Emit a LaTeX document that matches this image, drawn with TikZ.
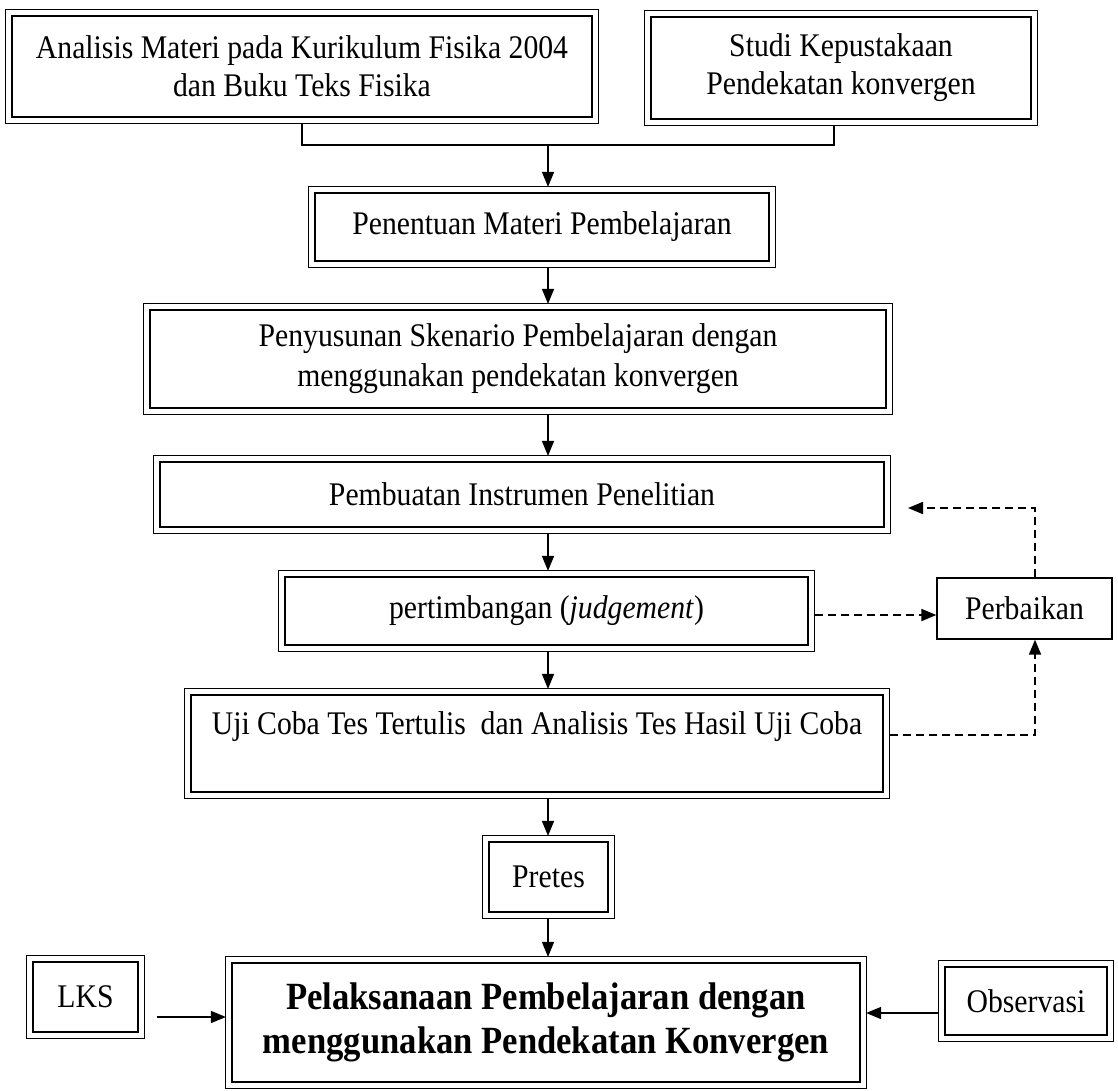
\documentclass[tikz,border=0pt]{standalone}
\usepackage{fontspec}
\setmainfont{Liberation Serif}[FakeStretch=0.9]
\usetikzlibrary{arrows.meta,calc}
\begin{document}
\begin{tikzpicture}[x=1pt,y=-1pt,
  dbox/.style={draw, line width=2.2pt, inner sep=0pt, align=center, font=\fontsize{33}{40}\selectfont},
  sbox/.style={draw, line width=1.3pt, inner sep=0pt, align=center, font=\fontsize{33}{40}\selectfont},
  conn/.style={line width=1.5pt, -{Triangle[length=15pt,width=12pt]}},
  plainline/.style={line width=1.2pt},
  dashconn/.style={line width=1.8pt, dash pattern=on 8pt off 5pt, -{Triangle[length=15pt,width=12pt]}}
]
\useasboundingbox (0,0) rectangle (1118,1090);

\node[dbox, minimum width=580pt, minimum height=101pt, font=\fontsize{33}{38}\selectfont] (ana) at (302,66.5)
  {Analisis Materi pada Kurikulum Fisika 2004\\dan Buku Teks Fisika};
\node[dbox, minimum width=380pt, minimum height=102pt, font=\fontsize{33}{38}\selectfont] (stu) at (841,68)
  {Studi Kepustakaan\\Pendekatan konvergen};
\node[dbox, minimum width=454pt, minimum height=68pt] (pen) at (542,227)
  {Penentuan Materi Pembelajaran};
\node[dbox, minimum width=736pt, minimum height=98pt] (pys) at (518,359)
  {Penyusunan Skenario Pembelajaran dengan\\menggunakan pendekatan konvergen};
\node[dbox, minimum width=724pt, minimum height=65pt] (pmb) at (522,494.5)
  {Pembuatan Instrumen Penelitian};
\node[dbox, minimum width=523pt, minimum height=68pt] (pti) at (546.5,611)
  {pertimbangan (\textit{judgement})};
\node[dbox, minimum width=692pt, minimum height=97pt] (uji) at (537,743.5)
  {Uji Coba Tes Tertulis\ \ dan Analisis Tes Hasil Uji Coba\\\mbox{}};
\node[dbox, minimum width=119pt, minimum height=70pt] (pre) at (548.5,877)
  {Pretes};
\node[dbox, minimum width=628pt, minimum height=119pt, font=\fontsize{38.5}{44}\selectfont\bfseries] (pel) at (546,1022.5)
  {Pelaksanaan Pembelajaran dengan\\menggunakan Pendekatan Konvergen};
\node[dbox, minimum width=105pt, minimum height=70pt] (lks) at (85.5,997)
  {LKS};
\node[dbox, minimum width=162pt, minimum height=68pt] (obs) at (1026,1001)
  {Observasi};
\node[sbox, minimum width=175pt, minimum height=61pt] (pbk) at (1024.5,608.5)
  {Perbaikan};

\foreach \n in {ana,stu,pen,pys,pmb,pti,uji,pre,pel,lks,obs}
  \draw[line width=0.9pt] ([shift={(-5pt,-5pt)}]\n.south west) rectangle ([shift={(5pt,5pt)}]\n.north east);

% bracket joining the two top boxes
\coordinate (bl) at (302,145);
\coordinate (br) at (834,145);
\coordinate (bm) at (548,145);
\coordinate (tx) at (548,0);
\draw[plainline] ($(ana.south)+(0,-5pt)$) -- (bl) -- (br) -- ($(stu.south -| br)+(0,-5pt)$);
\draw[conn] (bm) -- ($(pen.north -| bm)+(0,5pt)$);

% main trunk
\draw[conn] ($(pen.south -| tx)+(0,-5pt)$) -- ($(pys.north -| tx)+(0,5pt)$);
\draw[conn] ($(pys.south -| tx)+(0,-5pt)$) -- ($(pmb.north -| tx)+(0,5pt)$);
\draw[conn] ($(pmb.south -| tx)+(0,-5pt)$) -- ($(pti.north -| tx)+(0,5pt)$);
\draw[conn] ($(pti.south -| tx)+(0,-5pt)$) -- ($(uji.north -| tx)+(0,5pt)$);
\draw[conn] ($(uji.south -| tx)+(0,-5pt)$) -- ($(pre.north -| tx)+(0,5pt)$);
\draw[conn] ($(pre.south -| tx)+(0,-5pt)$) -- ($(pel.north -| tx)+(0,5pt)$);

% side inputs
\coordinate (ly) at (157,1017);
\coordinate (oy) at (0,1013);
\draw[conn] (ly) -- ($(pel.west |- ly)+(-5pt,0)$);
\draw[conn] ($(obs.west |- oy)+(-5pt,0)$) -- ($(pel.east |- oy)+(5pt,0)$);

% feedback loop
\coordinate (d1) at (0,615);
\coordinate (d2) at (0,735);
\coordinate (vx) at (1035,0);
\coordinate (c1) at (1035,735);
\coordinate (c2) at (1035,508);
\coordinate (tip) at (908,508);
\draw[dashconn] ($(pti.east |- d1)+(6pt,0)$) -- (pbk.west |- d1);
\draw[dashconn] ($(uji.east |- d2)+(6pt,0)$) -- (c1) -- (pbk.south -| vx);
\draw[dashconn] (pbk.north -| vx) -- (c2) -- (tip);
\end{tikzpicture}
\end{document}
